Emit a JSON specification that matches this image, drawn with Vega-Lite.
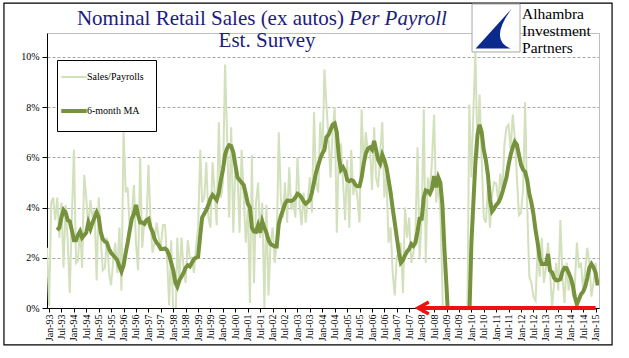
{
"$schema": "https://vega.github.io/schema/vega-lite/v6.json",
"width": 552, "height": 275,
"autosize": "none",
"padding": {"left": 47, "top": 33, "right": 30, "bottom": 50},
"background": "white",
"config": {"font": "Liberation Serif", "view": {"stroke": "#bfbfbf", "strokeWidth": 1}},
"datasets": {"one": [{}]},
"data": {"values": [
{"d":"1992-12-01","r":2.4},
{"d":"1993-01-01","r":0.1},{"d":"1993-02-01","r":4.2},{"d":"1993-03-01","r":4.4},{"d":"1993-04-01","r":3.5},
{"d":"1993-05-01","r":4.4,"m":3.1},{"d":"1993-06-01","r":2.8,"m":3.2},{"d":"1993-07-01","r":4.2,"m":3.6},{"d":"1993-08-01","r":1.6,"m":3.9},
{"d":"1993-09-01","r":4.1,"m":3.8},{"d":"1993-10-01","r":2.7,"m":3.5},{"d":"1993-11-01","r":0.6,"m":3.45},{"d":"1993-12-01","r":3.6,"m":3.1},
{"d":"1994-01-01","r":6.3,"m":2.7},{"d":"1994-02-01","r":1.8,"m":2.7},{"d":"1994-03-01","r":1.9,"m":2.9},{"d":"1994-04-01","r":3.2,"m":3.05},
{"d":"1994-05-01","r":1.6,"m":2.8},{"d":"1994-06-01","r":5.3,"m":2.9},{"d":"1994-07-01","r":4.4,"m":3.0},{"d":"1994-08-01","r":3.2,"m":3.4},
{"d":"1994-09-01","r":4.3,"m":3.15},{"d":"1994-10-01","r":3.6,"m":3.4},{"d":"1994-11-01","r":3.9,"m":3.6},{"d":"1994-12-01","r":1.1,"m":3.8},
{"d":"1995-01-01","r":4.4,"m":3.6},{"d":"1995-02-01","r":2.7,"m":3.0},{"d":"1995-03-01","r":1.5,"m":2.75},{"d":"1995-04-01","r":1.6,"m":2.65},
{"d":"1995-05-01","r":2.8,"m":2.6},{"d":"1995-06-01","r":1.4,"m":2.35},{"d":"1995-07-01","r":0.9,"m":2.2},{"d":"1995-08-01","r":1.9,"m":2.1},
{"d":"1995-09-01","r":2.6,"m":2.0},{"d":"1995-10-01","r":1.4,"m":1.9},{"d":"1995-11-01","r":3.2,"m":1.65},{"d":"1995-12-01","r":0.7,"m":1.45},
{"d":"1996-01-01","r":7.1,"m":1.7},{"d":"1996-02-01","r":4.6,"m":2.2},{"d":"1996-03-01","r":4.8,"m":2.6},{"d":"1996-04-01","r":3.1,"m":3.1},
{"d":"1996-05-01","r":3.6,"m":3.55},{"d":"1996-06-01","r":4.9,"m":3.75},{"d":"1996-07-01","r":2.6,"m":4.1},{"d":"1996-08-01","r":1.5,"m":3.7},
{"d":"1996-09-01","r":6.0,"m":3.4},{"d":"1996-10-01","r":2.4,"m":3.4},{"d":"1996-11-01","r":3.5,"m":3.35},{"d":"1996-12-01","r":3.3,"m":3.5},
{"d":"1997-01-01","r":5.7,"m":3.55},{"d":"1997-02-01","r":3.4,"m":3.2},{"d":"1997-03-01","r":2.2,"m":3.05},{"d":"1997-04-01","r":2.6,"m":2.75},
{"d":"1997-05-01","r":3.4,"m":2.6},{"d":"1997-06-01","r":2.8,"m":2.5},{"d":"1997-07-01","r":2.4,"m":2.35},{"d":"1997-08-01","r":3.3,"m":2.35},
{"d":"1997-09-01","r":3.3,"m":2.37},{"d":"1997-10-01","r":2.0,"m":2.3},{"d":"1997-11-01","r":0.1,"m":2.1},{"d":"1997-12-01","r":2.7,"m":1.8},
{"d":"1998-01-01","r":-0.3,"m":1.5},{"d":"1998-02-01","r":-1.0,"m":1.0},{"d":"1998-03-01","r":2.8,"m":0.85},{"d":"1998-04-01","r":1.1,"m":1.1},
{"d":"1998-05-01","r":2.8,"m":1.25},{"d":"1998-06-01","r":1.6,"m":1.4},{"d":"1998-07-01","r":1.0,"m":1.6},{"d":"1998-08-01","r":2.7,"m":1.7},
{"d":"1998-09-01","r":2.0,"m":1.65},{"d":"1998-10-01","r":2.0,"m":1.8},{"d":"1998-11-01","r":1.4,"m":1.95},{"d":"1998-12-01","r":2.4,"m":2.0},
{"d":"1999-01-01","r":3.2,"m":2.05},{"d":"1999-02-01","r":6.3,"m":2.9},{"d":"1999-03-01","r":4.2,"m":3.6},{"d":"1999-04-01","r":4.4,"m":3.75},
{"d":"1999-05-01","r":5.8,"m":3.9},{"d":"1999-06-01","r":3.6,"m":4.1},{"d":"1999-07-01","r":3.2,"m":4.35},{"d":"1999-08-01","r":5.8,"m":4.5},
{"d":"1999-09-01","r":4.6,"m":4.4},{"d":"1999-10-01","r":3.3,"m":4.3},{"d":"1999-11-01","r":7.4,"m":4.6},{"d":"1999-12-01","r":4.4,"m":5.1},
{"d":"2000-01-01","r":5.0,"m":5.5},{"d":"2000-02-01","r":9.7,"m":6.1},{"d":"2000-03-01","r":6.9,"m":6.35},{"d":"2000-04-01","r":3.6,"m":6.48},
{"d":"2000-05-01","r":7.2,"m":6.45},{"d":"2000-06-01","r":3.0,"m":6.2},{"d":"2000-07-01","r":5.6,"m":5.7},{"d":"2000-08-01","r":5.4,"m":5.2},
{"d":"2000-09-01","r":3.0,"m":5.1},{"d":"2000-10-01","r":6.3,"m":5.0},{"d":"2000-11-01","r":4.5,"m":4.9},{"d":"2000-12-01","r":2.6,"m":4.55},
{"d":"2001-01-01","r":4.0,"m":4.15},{"d":"2001-02-01","r":0.2,"m":4.0},{"d":"2001-03-01","r":6.1,"m":3.2},{"d":"2001-04-01","r":1.0,"m":3.05},
{"d":"2001-05-01","r":4.2,"m":3.03},{"d":"2001-06-01","r":5.0,"m":3.3},{"d":"2001-07-01","r":2.8,"m":3.0},{"d":"2001-08-01","r":4.2,"m":3.45},
{"d":"2001-09-01","r":0.0,"m":3.2},{"d":"2001-10-01","r":4.1,"m":3.0},{"d":"2001-11-01","r":0.5,"m":2.7},{"d":"2001-12-01","r":2.6,"m":2.55},
{"d":"2002-01-01","r":3.2,"m":2.5},{"d":"2002-02-01","r":1.8,"m":2.45},{"d":"2002-03-01","r":2.6,"m":2.45},{"d":"2002-04-01","r":7.0,"m":3.35},
{"d":"2002-05-01","r":4.4,"m":3.65},{"d":"2002-06-01","r":3.6,"m":3.9},{"d":"2002-07-01","r":5.0,"m":4.15},{"d":"2002-08-01","r":3.4,"m":4.28},
{"d":"2002-09-01","r":5.6,"m":4.27},{"d":"2002-10-01","r":3.9,"m":4.26},{"d":"2002-11-01","r":4.3,"m":4.3},{"d":"2002-12-01","r":3.6,"m":4.4},
{"d":"2003-01-01","r":6.0,"m":4.55},{"d":"2003-02-01","r":4.1,"m":4.5},{"d":"2003-03-01","r":3.3,"m":4.4},{"d":"2003-04-01","r":4.6,"m":4.25},
{"d":"2003-05-01","r":3.4,"m":4.15},{"d":"2003-06-01","r":4.3,"m":4.22},{"d":"2003-07-01","r":5.2,"m":4.3},{"d":"2003-08-01","r":3.8,"m":4.6},
{"d":"2003-09-01","r":7.8,"m":5.0},{"d":"2003-10-01","r":5.0,"m":5.4},{"d":"2003-11-01","r":4.6,"m":5.68},{"d":"2003-12-01","r":7.4,"m":5.95},
{"d":"2004-01-01","r":6.0,"m":6.15},{"d":"2004-02-01","r":9.5,"m":6.3},{"d":"2004-03-01","r":8.1,"m":6.8},{"d":"2004-04-01","r":6.8,"m":6.9},
{"d":"2004-05-01","r":5.2,"m":7.1},{"d":"2004-06-01","r":7.1,"m":7.3},{"d":"2004-07-01","r":8.0,"m":7.35},{"d":"2004-08-01","r":3.0,"m":7.0},
{"d":"2004-09-01","r":6.4,"m":6.0},{"d":"2004-10-01","r":6.5,"m":5.5},{"d":"2004-11-01","r":5.0,"m":5.6},{"d":"2004-12-01","r":3.5,"m":5.45},
{"d":"2005-01-01","r":5.9,"m":5.1},{"d":"2005-02-01","r":3.2,"m":5.05},{"d":"2005-03-01","r":6.3,"m":5.1},{"d":"2005-04-01","r":4.5,"m":5.06},
{"d":"2005-05-01","r":5.0,"m":4.9},{"d":"2005-06-01","r":4.4,"m":4.85},{"d":"2005-07-01","r":3.4,"m":4.85},{"d":"2005-08-01","r":7.9,"m":5.2},
{"d":"2005-09-01","r":5.6,"m":5.75},{"d":"2005-10-01","r":7.0,"m":6.15},{"d":"2005-11-01","r":6.2,"m":6.35},{"d":"2005-12-01","r":6.4,"m":6.4},
{"d":"2006-01-01","r":4.7,"m":6.3},{"d":"2006-02-01","r":7.2,"m":6.65},{"d":"2006-03-01","r":5.2,"m":6.3},{"d":"2006-04-01","r":4.8,"m":5.9},
{"d":"2006-05-01","r":6.2,"m":5.75},{"d":"2006-06-01","r":7.4,"m":6.1},{"d":"2006-07-01","r":4.4,"m":5.9},{"d":"2006-08-01","r":5.3,"m":5.6},
{"d":"2006-09-01","r":2.6,"m":5.1},{"d":"2006-10-01","r":3.2,"m":4.6},{"d":"2006-11-01","r":1.4,"m":3.95},{"d":"2006-12-01","r":0.5,"m":3.4},
{"d":"2007-01-01","r":2.1,"m":2.8},{"d":"2007-02-01","r":1.9,"m":2.2},{"d":"2007-03-01","r":2.6,"m":1.8},{"d":"2007-04-01","r":0.6,"m":1.9},
{"d":"2007-05-01","r":4.0,"m":2.1},{"d":"2007-06-01","r":2.8,"m":2.25},{"d":"2007-07-01","r":3.6,"m":2.35},{"d":"2007-08-01","r":1.8,"m":2.55},
{"d":"2007-09-01","r":2.2,"m":2.47},{"d":"2007-10-01","r":3.0,"m":2.6},{"d":"2007-11-01","r":6.4,"m":3.05},{"d":"2007-12-01","r":2.0,"m":3.55},
{"d":"2008-01-01","r":3.6,"m":3.55},{"d":"2008-02-01","r":7.9,"m":4.4},{"d":"2008-03-01","r":1.8,"m":4.68},{"d":"2008-04-01","r":5.2,"m":4.65},
{"d":"2008-05-01","r":4.6,"m":4.55},{"d":"2008-06-01","r":5.9,"m":4.75},{"d":"2008-07-01","r":7.7,"m":5.25},{"d":"2008-08-01","r":4.2,"m":4.8},
{"d":"2008-09-01","r":5.0,"m":5.2},{"d":"2008-10-01","r":3.9,"m":5.0},{"d":"2008-11-01","r":0.8,"m":4.1},{"d":"2008-12-01","r":-5.0,"m":2.3},
{"d":"2009-01-01","r":-6.0,"m":0.8},{"d":"2009-02-01","r":-8.0,"m":-0.8},{"d":"2009-03-01","r":-9.0,"m":-2.5},{"d":"2009-04-01","r":-8.0,"m":-3.8},
{"d":"2009-05-01","r":-7.0,"m":-4.5},{"d":"2009-06-01","r":-6.0,"m":-5.0},{"d":"2009-07-01","r":-5.0,"m":-5.2},{"d":"2009-08-01","r":-4.0,"m":-5.0},
{"d":"2009-09-01","r":-3.0,"m":-4.5},{"d":"2009-10-01","r":-2.0,"m":-3.5},{"d":"2009-11-01","r":-1.0,"m":-2.2},{"d":"2009-12-01","r":8.1,"m":-0.4},
{"d":"2010-01-01","r":5.2,"m":2.6},{"d":"2010-02-01","r":8.0,"m":4.3},{"d":"2010-03-01","r":10.2,"m":5.8},{"d":"2010-04-01","r":6.0,"m":6.9},
{"d":"2010-05-01","r":8.5,"m":7.3},{"d":"2010-06-01","r":5.9,"m":7.0},{"d":"2010-07-01","r":3.6,"m":6.3},{"d":"2010-08-01","r":3.4,"m":5.9},
{"d":"2010-09-01","r":4.8,"m":5.3},{"d":"2010-10-01","r":3.2,"m":4.3},{"d":"2010-11-01","r":4.5,"m":3.85},{"d":"2010-12-01","r":5.0,"m":3.96},
{"d":"2011-01-01","r":4.95,"m":4.1},{"d":"2011-02-01","r":4.2,"m":4.2},{"d":"2011-03-01","r":5.35,"m":4.35},{"d":"2011-04-01","r":4.6,"m":4.6},
{"d":"2011-05-01","r":6.5,"m":4.9},{"d":"2011-06-01","r":7.2,"m":5.2},{"d":"2011-07-01","r":7.3,"m":5.7},{"d":"2011-08-01","r":6.3,"m":6.1},
{"d":"2011-09-01","r":7.7,"m":6.4},{"d":"2011-10-01","r":6.8,"m":6.62},{"d":"2011-11-01","r":5.2,"m":6.5},{"d":"2011-12-01","r":3.7,"m":6.1},
{"d":"2012-01-01","r":3.8,"m":5.7},{"d":"2012-02-01","r":4.8,"m":5.5},{"d":"2012-03-01","r":8.2,"m":5.42},{"d":"2012-04-01","r":4.0,"m":5.1},
{"d":"2012-05-01","r":1.25,"m":4.55},{"d":"2012-06-01","r":1.0,"m":4.2},{"d":"2012-07-01","r":0.45,"m":3.75},{"d":"2012-08-01","r":0.3,"m":3.1},
{"d":"2012-09-01","r":2.4,"m":2.6},{"d":"2012-10-01","r":1.25,"m":2.0},{"d":"2012-11-01","r":2.8,"m":1.75},{"d":"2012-12-01","r":1.0,"m":1.75},
{"d":"2013-01-01","r":1.6,"m":1.75},{"d":"2013-02-01","r":2.6,"m":2.15},{"d":"2013-03-01","r":1.5,"m":1.5},{"d":"2013-04-01","r":0.05,"m":1.42},
{"d":"2013-05-01","r":1.0,"m":1.2},{"d":"2013-06-01","r":1.8,"m":1.1},{"d":"2013-07-01","r":0.7,"m":1.1},{"d":"2013-08-01","r":3.5,"m":1.15},
{"d":"2013-09-01","r":1.25,"m":1.45},{"d":"2013-10-01","r":0.2,"m":1.6},{"d":"2013-11-01","r":1.8,"m":1.58},{"d":"2013-12-01","r":0.7,"m":1.4},
{"d":"2014-01-01","r":1.25,"m":1.2},{"d":"2014-02-01","r":0.45,"m":0.9},{"d":"2014-03-01","r":0.9,"m":0.45},{"d":"2014-04-01","r":2.6,"m":0.15},
{"d":"2014-05-01","r":1.6,"m":0.35},{"d":"2014-06-01","r":1.8,"m":0.55},{"d":"2014-07-01","r":0.7,"m":0.65},{"d":"2014-08-01","r":1.5,"m":0.85},
{"d":"2014-09-01","r":2.4,"m":1.2},{"d":"2014-10-01","r":1.8,"m":1.6},{"d":"2014-11-01","r":0.45,"m":1.75},{"d":"2014-12-01","r":1.0,"m":1.62},
{"d":"2015-01-01","r":1.8,"m":1.4},{"d":"2015-02-01","r":0.9,"m":0.9}
]},
"layer": [
{
 "data": {"name": "one"},
 "mark": {"type": "rect", "fill": null, "fillOpacity": 0, "stroke": "black", "strokeWidth": 1.2},
 "encoding": {
  "x": {"datum": {"year": 1991, "month": 3, "date": 9}, "type": "temporal", "title": null},
  "x2": {"datum": {"year": 2015, "month": 8, "date": 31}},
  "y": {"datum": 12.14, "type": "quantitative", "title": null},
  "y2": {"datum": -1.47}
 }
},
{
 "mark": {"type": "line", "clip": true, "strokeWidth": 2},
 "encoding": {
  "x": {"field": "d", "type": "temporal", "title": null,
   "scale": {"domain": [{"year": 1992, "month": 12, "date": 1}, {"year": 2015, "month": 2, "date": 20}]},
   "axis": {"title": null, "tickCount": {"interval": "month", "step": 6}, "format": "%b-%y", "labelAngle": 270,
    "labelAlign": "right", "labelBaseline": "middle", "labelFontSize": 10, "labelColor": "black", "labelPadding": 2,
    "labelOverlap": false, "labelFlush": false, "tickColor": "black", "tickSize": 4, "domainColor": "black", "grid": false}},
  "y": {"field": "r", "type": "quantitative", "title": null,
   "scale": {"domain": [0, 10.95], "nice": false, "zero": false},
   "axis": {"title": null, "values": [0, 2, 4, 6, 8, 10], "labelExpr": "datum.value + '%'", "labelFontSize": 10,
    "labelColor": "black", "labelPadding": 3, "tickColor": "black", "tickSize": 5, "domainColor": "black",
    "grid": true, "gridDash": [3, 2], "gridColor": "#a6a6a6", "gridWidth": 1}},
  "color": {"datum": "Sales/Payrolls", "type": "nominal",
   "scale": {"domain": ["Sales/Payrolls", "6-month MA"], "range": ["#d3e0bc", "#76923c"]},
   "legend": {"title": null, "orient": "none", "legendX": 10, "legendY": 27, "symbolType": "stroke", "symbolSize": 650,
    "symbolStrokeWidth": 2, "labelFontSize": 10, "labelColor": "black", "strokeColor": "black", "fillColor": "white",
    "padding": 12, "rowPadding": 21, "labelOffset": 8,
    "encode": {"symbols": {"update": {"strokeWidth": {"signal": "datum.value === '6-month MA' ? 4 : 2"}}}}}}
 }
},
{
 "transform": [{"filter": "isValid(datum.m)"}],
 "mark": {"type": "line", "clip": true, "strokeWidth": 4},
 "encoding": {
  "x": {"field": "d", "type": "temporal", "title": null},
  "y": {"field": "m", "type": "quantitative", "title": null},
  "color": {"datum": "6-month MA", "type": "nominal"}
 }
},
{
 "data": {"name": "one"},
 "mark": {"type": "rule", "color": "#ee1111", "strokeWidth": 4},
 "encoding": {
  "x": {"datum": {"year": 2007, "month": 11, "date": 14}, "type": "temporal", "title": null},
  "x2": {"datum": {"year": 2015, "month": 1, "date": 1}},
  "y": {"datum": 0, "type": "quantitative", "title": null}
 }
},
{
 "data": {"name": "one"},
 "mark": {"type": "point", "shape": "M 1.8 -1 L 0 0 L 1.8 1", "size": 144, "filled": false, "stroke": "#ee1111", "strokeWidth": 3.5, "opacity": 1},
 "encoding": {
  "x": {"datum": {"year": 2007, "month": 11, "date": 8}, "type": "temporal", "title": null},
  "y": {"datum": 0, "type": "quantitative", "title": null}
 }
},
{
 "data": {"name": "one"},
 "mark": {"type": "text", "align": "right", "baseline": "alphabetic", "fontSize": 21, "color": "#1c1c7c"},
 "encoding": {
  "x": {"datum": {"year": 2004, "month": 11, "date": 15}, "type": "temporal", "title": null},
  "y": {"datum": 11.27, "type": "quantitative", "title": null},
  "text": {"value": "Nominal Retail Sales (ex autos)"}
 }
},
{
 "data": {"name": "one"},
 "mark": {"type": "text", "align": "left", "baseline": "alphabetic", "fontSize": 21, "fontStyle": "italic", "dx": 5, "color": "#1c1c7c"},
 "encoding": {
  "x": {"datum": {"year": 2004, "month": 11, "date": 15}, "type": "temporal", "title": null},
  "y": {"datum": 11.27, "type": "quantitative", "title": null},
  "text": {"value": "Per Payroll"}
 }
},
{
 "data": {"name": "one"},
 "mark": {"type": "text", "align": "center", "baseline": "alphabetic", "fontSize": 21, "color": "#1c1c7c"},
 "encoding": {
  "x": {"datum": {"year": 2001, "month": 10, "date": 10}, "type": "temporal", "title": null},
  "y": {"datum": 10.39, "type": "quantitative", "title": null},
  "text": {"value": "Est. Survey"}
 }
},
{
 "data": {"name": "one"},
 "mark": {"type": "point", "shape": "square", "size": 2304, "filled": true, "fill": "white", "stroke": "#a6a6a6", "strokeWidth": 1, "opacity": 1},
 "encoding": {
  "x": {"datum": {"year": 2010, "month": 12, "date": 29}, "type": "temporal", "title": null},
  "y": {"datum": 11.15, "type": "quantitative", "title": null}
 }
},
{
 "data": {"name": "one"},
 "mark": {"type": "point", "shape": "M 0.65 -0.8 L -0.85 0.85 L 0.6 0.85 Q -0.3 0.5 0.65 -0.8 Z", "size": 2304, "filled": true, "fill": "#0b2a8c", "strokeWidth": 0, "opacity": 1},
 "encoding": {
  "x": {"datum": {"year": 2010, "month": 12, "date": 29}, "type": "temporal", "title": null},
  "y": {"datum": 11.15, "type": "quantitative", "title": null}
 }
},
{
 "data": {"values": [{"t": "Alhambra", "y": 11.49}, {"t": "Investment", "y": 10.83}, {"t": "Partners", "y": 10.17}]},
 "mark": {"type": "text", "align": "left", "baseline": "alphabetic", "fontSize": 15.5, "color": "black"},
 "encoding": {
  "x": {"datum": {"year": 2012, "month": 1, "date": 15}, "type": "temporal", "title": null},
  "y": {"field": "y", "type": "quantitative", "title": null},
  "text": {"field": "t"}
 }
}
]
}
